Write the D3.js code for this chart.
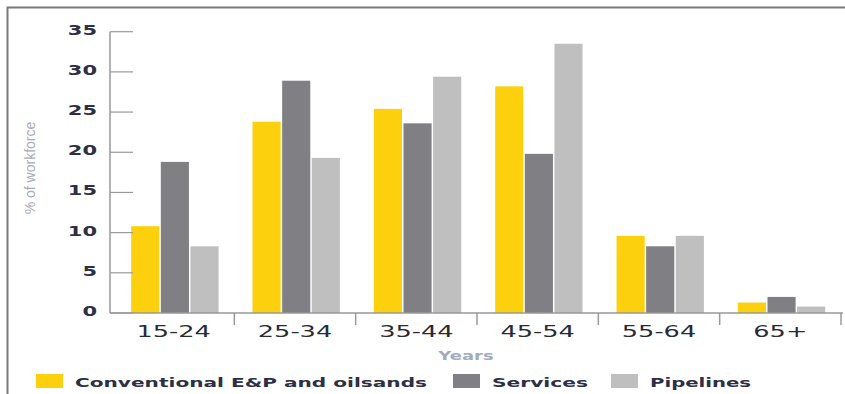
<!DOCTYPE html>
<html>
<head>
<meta charset="utf-8">
<script src="https://cdn.jsdelivr.net/npm/d3@7"></script>
<style>
  body { margin: 0; background: #fff; }
  text { font-family: "DejaVu Sans", Verdana, sans-serif; }
</style>
</head>
<body>
<svg id="chart"></svg>
<script>
// data
var ages = ["15-24", "25-34", "35-44", "45-54", "55-64", "65+"];
var seriesNames = ["Conventional E&P and oilsands", "Services", "Pipelines"];
var conventional = [10.8, 23.8, 25.4, 28.2, 9.6, 1.3];
var services = [18.8, 28.9, 23.6, 19.8, 8.3, 2.0];
var pipelines = [8.3, 19.3, 29.4, 33.5, 9.6, 0.8];
var yTicks = [0, 5, 10, 15, 20, 25, 30, 35];

var width = 845, height = 394;
var colors = ["#fcd00c", "#807f84", "#bfbfbf"];
var sx = 1.5; // the picture is stretched horizontally

var svg = d3.select("#chart").attr("width", width).attr("height", height);

// frame
svg.append("path")
    .attr("d", "M7.5,394V7.5H845")
    .attr("fill", "none").attr("stroke", "#7a7a7a").attr("stroke-width", 2);

var x = d3.scaleBand().domain(ages).range([113, 841]);
var xInner = d3.scaleBand().domain(seriesNames)
    .range([x.bandwidth() * 0.15, x.bandwidth() * 0.87]).paddingInner(0.05);
var y = d3.scaleLinear().domain([0, 35]).range([313, 31.7]);

var table = ages.map(function(a, i) {
    return { age: a, values: [conventional[i], services[i], pipelines[i]] };
});

// bars
var groups = svg.append("g").selectAll("g").data(table).enter().append("g")
    .attr("transform", d => `translate(${x(d.age)},0)`);
groups.selectAll("rect")
    .data(d => d.values.map((v, k) => ({ name: seriesNames[k], v: v, k: k })))
    .enter().append("rect")
    .attr("x", d => xInner(d.name))
    .attr("width", xInner.bandwidth())
    .attr("y", d => y(d.v))
    .attr("height", d => y(0) - y(d.v))
    .attr("fill", d => colors[d.k]);

// y axis
var yAxis = svg.append("g");
yAxis.append("line")
    .attr("x1", 110).attr("x2", 110).attr("y1", y(35)).attr("y2", y(0))
    .attr("stroke", "#999").attr("stroke-width", 1.5);
yAxis.selectAll(".tick").data(yTicks).enter().append("line")
    .attr("x1", 110).attr("x2", 133)
    .attr("y1", d => y(d)).attr("y2", d => y(d))
    .attr("stroke", "#999").attr("stroke-width", 1.2);
yAxis.selectAll(".lab").data(yTicks).enter().append("text")
    .attr("transform", d => `translate(97,${y(d) + 3}) scale(${sx},1)`)
    .attr("text-anchor", "end")
    .style("font-size", "14px").style("font-weight", "bold")
    .attr("fill", "#2c2f45")
    .text(d => d);

// x axis
var xAxis = svg.append("g");
xAxis.append("line")
    .attr("x1", 110).attr("x2", 843).attr("y1", 313).attr("y2", 313)
    .attr("stroke", "#999").attr("stroke-width", 1.5);
xAxis.selectAll(".tick").data(ages).enter().append("line")
    .attr("x1", d => x(d) + x.bandwidth()).attr("x2", d => x(d) + x.bandwidth())
    .attr("y1", 313).attr("y2", 325)
    .attr("stroke", "#999").attr("stroke-width", 1.5);
xAxis.selectAll(".lab").data(ages).enter().append("text")
    .attr("transform", d => `translate(${x(d) + x.bandwidth() / 2},337) scale(1.6,1)`)
    .attr("text-anchor", "middle")
    .style("font-size", "16px")
    .attr("fill", "#2a2a35")
    .text(d => d);

// axis titles
svg.append("text")
    .attr("transform", `translate(466,360) scale(${sx},1)`)
    .attr("text-anchor", "middle")
    .style("font-size", "12px").style("font-weight", "bold")
    .attr("fill", "#a3abbd")
    .text("Years");

svg.append("text")
    .attr("transform", "translate(35,168) rotate(-90)")
    .attr("text-anchor", "middle")
    .style("font-family", "'Liberation Sans Narrow', 'Arial Narrow', sans-serif")
    .style("font-size", "14px")
    .attr("fill", "#a8aab5")
    .text("% of workforce");

// legend
var legendX = [36, 453, 611];
var legendW = [352, 96, 101];
var legend = svg.append("g").selectAll("g").data(seriesNames).enter().append("g")
    .attr("transform", (d, i) => `translate(${legendX[i]},374)`);
legend.append("rect")
    .attr("width", 27).attr("height", 14)
    .attr("fill", (d, i) => colors[i]);
legend.append("text")
    .attr("x", 39).attr("y", 13)
    .attr("textLength", (d, i) => legendW[i])
    .attr("lengthAdjust", "spacingAndGlyphs")
    .style("font-size", "13px").style("font-weight", "bold")
    .attr("fill", "#2c2f45")
    .text(d => d);
</script>
</body>
</html>
